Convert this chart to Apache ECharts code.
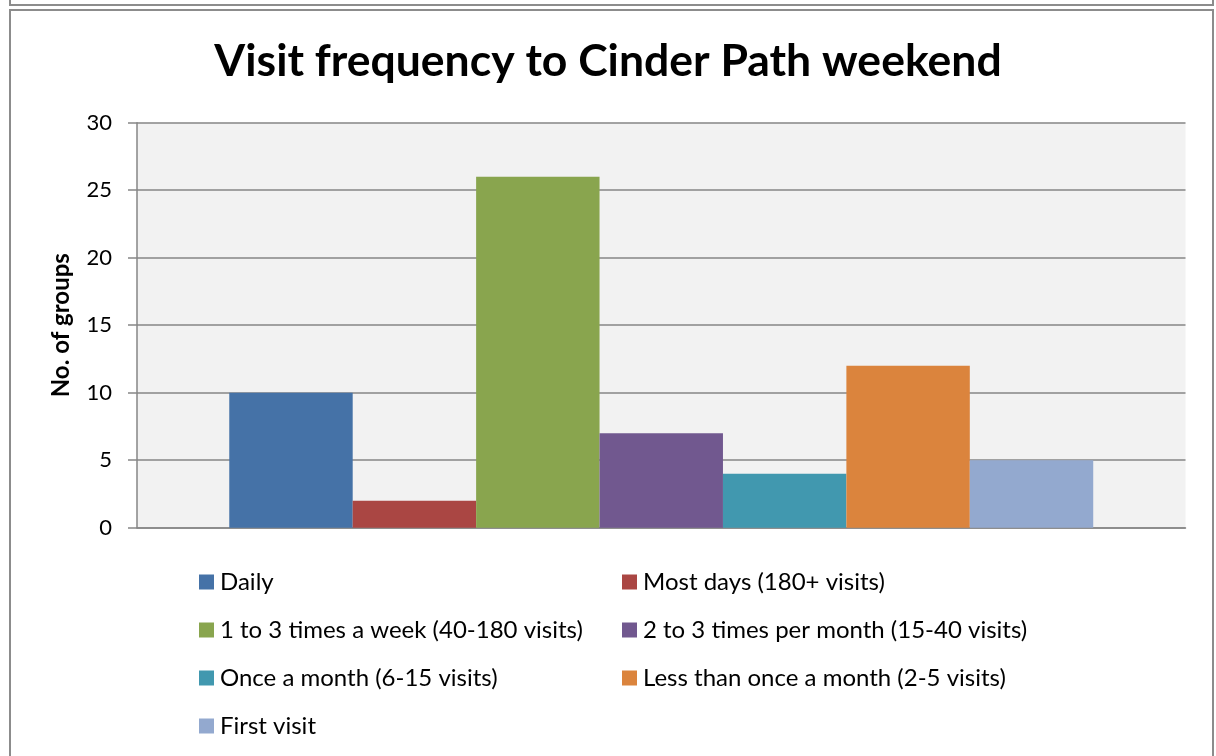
<!DOCTYPE html>
<html>
<head>
<meta charset="utf-8">
<script src="https://cdn.jsdelivr.net/npm/echarts@6/dist/echarts.min.js"></script>
<style>
html,body{margin:0;padding:0;background:#fff;}
#main{width:1216px;height:756px;}
</style>
</head>
<body>
<div id="main"></div>
<script>
var categories=['Visit frequency'];
var seriesNames=['Daily','Most days (180+ visits)','1 to 3 times a week (40-180 visits)','2 to 3 times per month (15-40 visits)','Once a month (6-15 visits)','Less than once a month (2-5 visits)','First visit'];
var seriesValues=[10,2,26,7,4,12,5];
var seriesColors=['#4572a7','#aa4643','#89a54e','#71588f','#4198af','#db843d','#93a9cf'];
var yTicks=[0,5,10,15,20,25,30];

var font='Lato';
var chart=echarts.init(document.getElementById('main'));

var series=[];
for(var i=0;i<seriesNames.length;i++){
	series.push({
		name:seriesNames[i],
		type:'bar',
		data:[seriesValues[i]],
		color:seriesColors[i],
		barGap:'0%',
		barCategoryGap:'17.6%'
	});
}

var legendText={fontFamily:font,fontSize:24,color:'#000',padding:[0,0,0,1]};

option={
	backgroundColor:'#fff',
	animation:false,
	title:{
		text:'Visit frequency to Cinder Path weekend',
		left:'center',
		top:34,
		textStyle:{fontFamily:font,fontWeight:'bold',fontSize:44.5,color:'#000'}
	},
	graphic:[
		{type:'rect',shape:{x:10,y:-10,width:1203,height:15},style:{fill:'none',stroke:'#8c8c8c',lineWidth:2}},
		{type:'rect',shape:{x:10,y:10,width:1203,height:760},style:{fill:'none',stroke:'#8c8c8c',lineWidth:2}}
	],
	grid:{
		left:137,right:30.5,top:122.7,bottom:228.3,
		show:true,backgroundColor:'#f2f2f2',borderWidth:0
	},
	legend:[{
		orient:'vertical',left:194,top:565,height:190,
		icon:'rect',itemWidth:15,itemHeight:15,itemGap:24,
		data:[seriesNames[0],seriesNames[2],seriesNames[4],seriesNames[6]],
		textStyle:legendText
	},{
		orient:'vertical',left:617,top:565,height:190,
		icon:'rect',itemWidth:15,itemHeight:15,itemGap:24,
		data:[seriesNames[1],seriesNames[3],seriesNames[5]],
		textStyle:legendText
	}],
	xAxis:{
		type:'category',
		data:categories,
		axisLine:{show:true,lineStyle:{color:'#868686',width:1.5}},
		axisTick:{show:false},
		axisLabel:{show:false}
	},
	yAxis:{
		type:'value',
		min:yTicks[0],max:yTicks[yTicks.length-1],interval:5,
		name:'No. of groups',
		nameLocation:'middle',
		nameGap:64,
		nameTextStyle:{fontFamily:font,fontWeight:'bold',fontSize:24,color:'#000'},
		axisLine:{show:true,lineStyle:{color:'#868686',width:1.5}},
		axisTick:{show:true,length:9,lineStyle:{color:'#868686',width:1.5}},
		axisLabel:{fontFamily:font,fontSize:22,color:'#000',margin:25},
		splitLine:{show:true,lineStyle:{color:'#868686',width:1.5}}
	},
	series:series
};
chart.setOption(option);
</script>
</body>
</html>
